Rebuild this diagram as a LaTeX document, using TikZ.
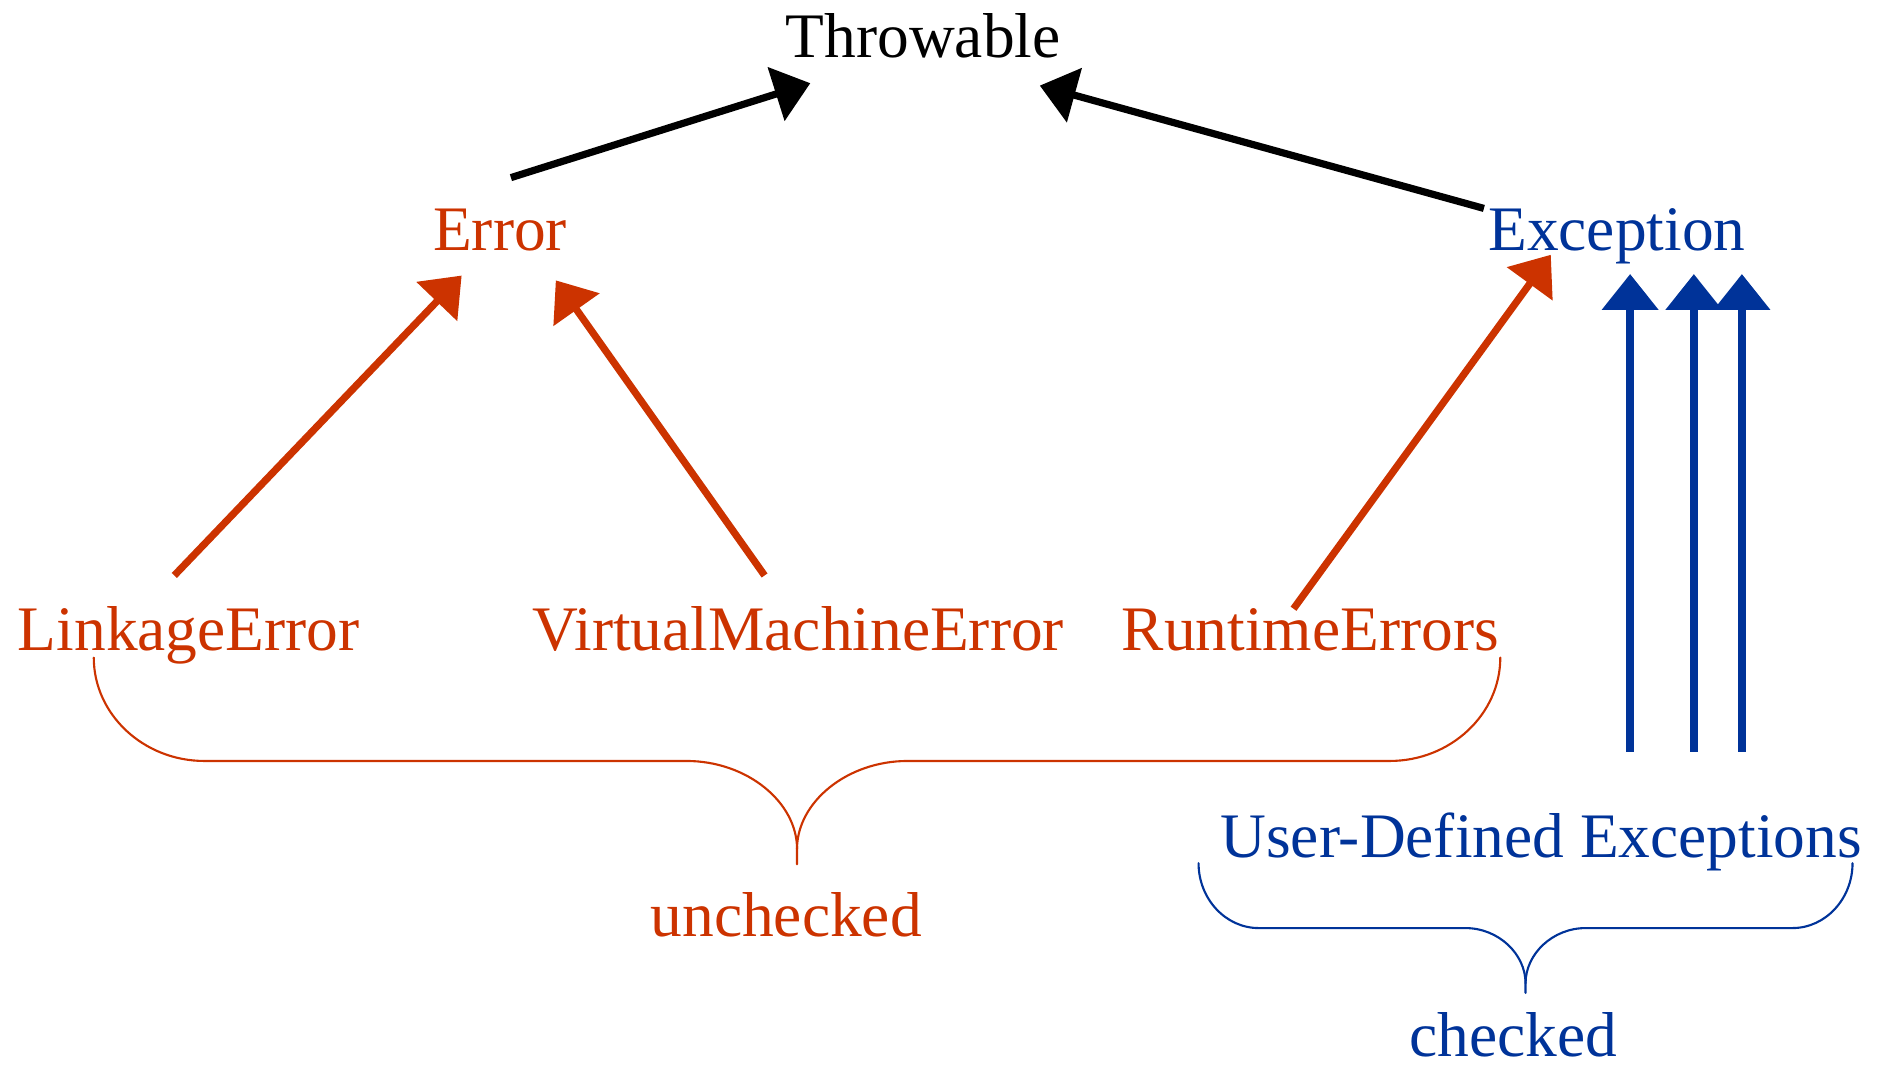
\documentclass[tikz,border=0pt]{standalone}
\usepackage{fontspec}
\setmainfont{Liberation Serif}
\usepackage{xcolor}
\usetikzlibrary{arrows.meta,calc}
\definecolor{errred}{HTML}{CC3300}
\definecolor{excblue}{HTML}{003399}
\tikzset{cls/.style={inner sep=0pt,anchor=base,font=\fontsize{15}{18}\selectfont},
  inherit/.style={-{Triangle[length=8.5pt,width=13pt]},line width=1.7pt},
  brace/.style={line width=0.5pt,line cap=round}}
% curly brace opening downwards: [style]{left x}{right x}{top y}{half depth}{corner width}
\newcommand{\groupbrace}[6][]{%
  \pgfmathsetmacro\bmid{(#2+#3)/2}
  \draw[brace,#1] (#2,#4) .. controls (#2,{#4+0.55*#5}) and ({#2+0.45*#6},{#4+#5}) .. ({#2+#6},{#4+#5})
    -- ({\bmid-#6},{#4+#5}) .. controls ({\bmid-0.45*#6},{#4+#5}) and (\bmid,{#4+1.4*#5}) .. (\bmid,{#4+1.85*#5})
    -- (\bmid,{#4+2*#5});
  \draw[brace,#1] (#3,#4) .. controls (#3,{#4+0.55*#5}) and ({#3-0.45*#6},{#4+#5}) .. ({#3-#6},{#4+#5})
    -- ({\bmid+#6},{#4+#5}) .. controls ({\bmid+0.45*#6},{#4+#5}) and (\bmid,{#4+1.4*#5}) .. (\bmid,{#4+1.85*#5});}

\begin{document}
\begin{tikzpicture}[x=0.01cm,y=-0.01cm]
  \useasboundingbox (0,0) rectangle (1568,888);
  \node[cls] (thr) at (768,48) {Throwable};
  \node[cls,errred] (err) at (416,208) {Error};
  \node[cls,excblue] (exc) at (1345,208) {Exception};
  \node[cls,errred] (lnk) at (157,541) {LinkageError};
  \node[cls,errred] (vme) at (664,541) {VirtualMachineError};
  \node[cls,errred] (rte) at (1090,541) {RuntimeErrors};
  \node[cls,excblue] (ude) at (1282,713) {User-Defined Exceptions};
  \node[cls,errred] (unc) at (654,779) {unchecked};
  \node[cls,excblue] (chk) at (1259,879) {checked};
  % subclass arrows
  \draw[inherit] ($(err.north)+(9,-25)$) -- ($(thr.south west)+(21,20)$);
  \draw[inherit] ($(exc.north west)+(-3,1)$) -- ($(thr.south east)+(-18,22)$);
  \draw[inherit,errred] ($(lnk.north)+(-12,-25)$) -- ($(err.south)+(-32,20)$);
  \draw[inherit,errred] ($(vme.north)+(-28,-25)$) -- ($(err.south east)+(-10,24)$);
  \draw[inherit,errred] ($(rte.north)+(-14,1)$) -- ($(exc.south)+(-55,-8)$);
  \foreach \dx in {11,64,104}
    \draw[inherit,excblue,line width=1.9pt] ($(ude.north)+(\dx+63,-50)$) -- ($(exc.south)+(\dx,8)$);
  % groups
  \groupbrace[errred]{78}{1248}{547}{86}{92}
  \groupbrace[excblue]{997}{1541}{718}{54}{50}
\end{tikzpicture}
\end{document}
